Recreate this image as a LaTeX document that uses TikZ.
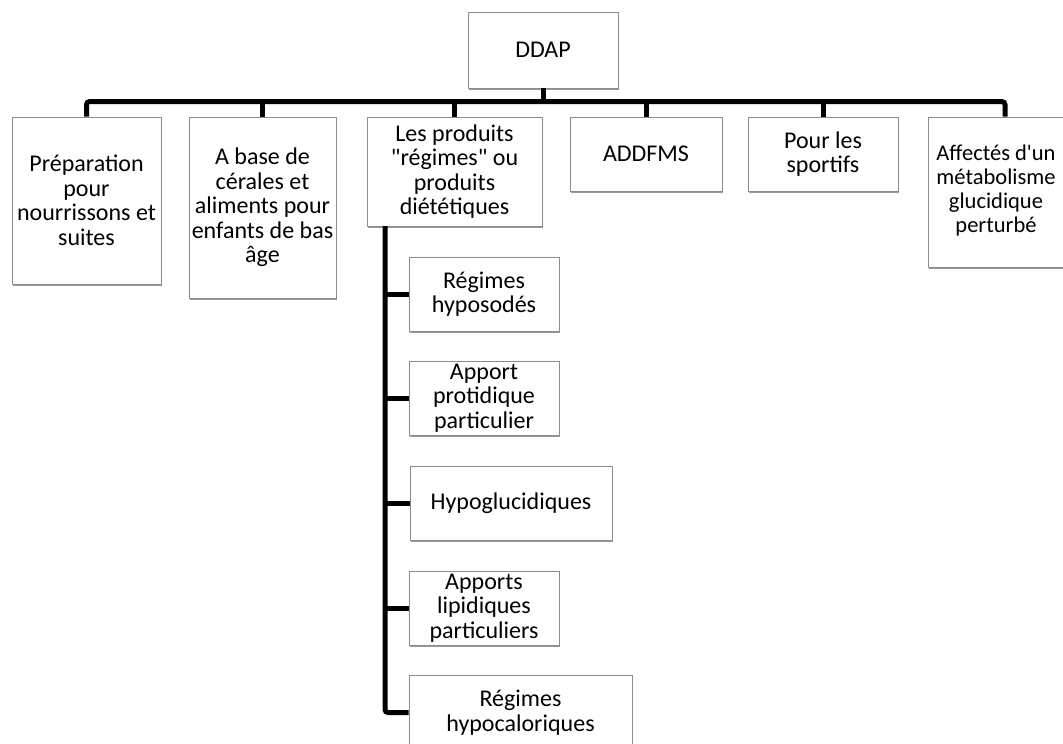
\documentclass[tikz,border=0pt]{standalone}
\usepackage{fontspec}
\setmainfont{Carlito}[Ligatures=TeXOff]
\usetikzlibrary{shadows}

\tikzset{
  boite/.style={draw=black!45, line width=0.8pt, fill=white, align=center, inner sep=0pt,
    font=\fontsize{24}{24.5}\selectfont,
    drop shadow={shadow xshift=0.8pt, shadow yshift=-2pt, fill=black!40, opacity=1}},
  taille/.style 2 args={minimum width=#1pt, minimum height=#2pt},
  lien/.style={line width=5pt, rounded corners=3pt}
}

\begin{document}
\begin{tikzpicture}[x=1pt,y=-1pt]
\useasboundingbox (0,0) rectangle (1063,744);
\clip (0,0) rectangle (1063,744);

\node[boite,taille={150}{76}] (ddap) at (543,50) {DDAP};

\node[boite,taille={149}{167}] (prep) at (86.5,200.5) {Préparation\\pour\\nourrissons et\\suites};
\node[boite,taille={147}{181}] (base) at (262.5,207.5) {A base de\\cérales et\\aliments pour\\enfants de bas\\âge};
\node[boite,taille={175}{109}] (prod) at (454.5,171.5) {Les produits\\"régimes" ou\\produits\\diététiques};
\node[boite,taille={152}{74}] (addfms) at (646,154) {ADDFMS};
\node[boite,taille={150}{74}] (sport) at (823,154) {Pour les\\sportifs};
\node[boite,taille={154}{150},font=\fontsize{22.5}{24}\selectfont] (affect) at (1005,192)
  {\hspace*{-18pt}\begin{tabular}{@{}c@{}}Affectés d'un\\métabolisme\\glucidique\\perturbé\end{tabular}};

\node[boite,taille={150}{74}] (hyposod) at (484,294) {Régimes\\hyposodés};
\node[boite,taille={150}{74}] (protid) at (484,398) {Apport\\protidique\\particulier};
\node[boite,taille={202}{74}] (hypoglu) at (511,503) {Hypoglucidiques};
\node[boite,taille={150}{74}] (lipid) at (484,608) {Apports\\lipidiques\\particuliers};
\node[boite,taille={223}{75}] (hypocal) at (520.5,712.5) {Régimes\\hypocaloriques};

\draw[lien] (prep.north) -- ++(0,-15) -| (affect.north);
\draw[lien] (ddap.south) -- ++(0,14);
\foreach \n in {base,prod,addfms,sport}
  \draw[lien] (\n.north) -- ++(0,-15);

\coordinate (tronc) at (385,226);
\draw[lien] (tronc) |- (hypocal.west);
\foreach \n in {hyposod,protid,hypoglu,lipid}
  \draw[lien] (\n.west -| tronc) -- (\n.west);
\end{tikzpicture}
\end{document}
